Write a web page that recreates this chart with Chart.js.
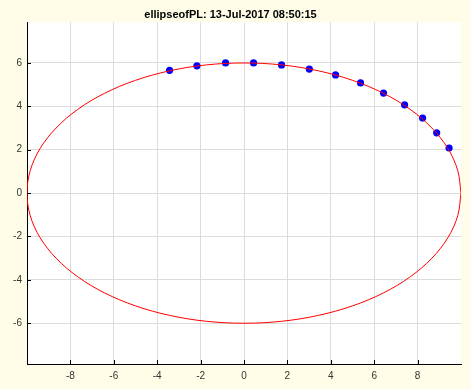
<!DOCTYPE html>
<html>
<head>
<meta charset="utf-8">
<script src="https://cdn.jsdelivr.net/npm/chart.js@4/dist/chart.umd.min.js"></script>
<style>
  html, body { margin: 0; padding: 0; background: #fffde8; }
  #wrap { width: 471px; height: 389px; }
</style>
</head>
<body>
<div id="wrap"><canvas id="myChart"></canvas></div>
<script>
// ellipse outline, every 10 degrees
const ellipseX = [10, 9.85, 9.40, 8.66, 7.66, 6.43, 5.00, 3.42, 1.74, 0,
                  -1.74, -3.42, -5.00, -6.43, -7.66, -8.66, -9.40, -9.85, -10,
                  -9.85, -9.40, -8.66, -7.66, -6.43, -5.00, -3.42, -1.74, 0,
                  1.74, 3.42, 5.00, 6.43, 7.66, 8.66, 9.40, 9.85, 10];
const ellipseY = [0, 1.04, 2.05, 3.00, 3.86, 4.60, 5.20, 5.64, 5.91, 6,
                  5.91, 5.64, 5.20, 4.60, 3.86, 3.00, 2.05, 1.04, 0,
                  -1.04, -2.05, -3.00, -3.86, -4.60, -5.20, -5.64, -5.91, -6,
                  -5.91, -5.64, -5.20, -4.60, -3.86, -3.00, -2.05, -1.04, 0];

// blue measured points
const pointsX = [-3.43, -2.17, -0.85, 0.44, 1.73, 3.01, 4.22, 5.37, 6.43, 7.40, 8.23, 8.88, 9.45];
const pointsY = [5.66, 5.87, 6.00, 6.00, 5.91, 5.72, 5.45, 5.08, 4.61, 4.07, 3.46, 2.78, 2.08];

const xTicks = [-8, -6, -4, -2, 0, 2, 4, 6, 8];
const yTicks = [-6, -4, -2, 0, 2, 4, 6];

const titleText = 'ellipseofPL: 13-Jul-2017 08:50:15';

const toXY = (xs, ys) => xs.map((x, i) => ({x: x, y: ys[i]}));

// white plot area + small inward tick marks like octave
const plotBox = {
  id: 'plotBox',
  beforeDraw(chart) {
    const a = chart.chartArea;
    const ctx = chart.ctx;
    ctx.save();
    ctx.fillStyle = '#ffffff';
    ctx.fillRect(a.left, a.top, a.right - a.left, a.bottom - a.top);
    ctx.restore();
  },
  afterDraw(chart) {
    const a = chart.chartArea;
    const ctx = chart.ctx;
    const sx = chart.scales.x, sy = chart.scales.y;
    ctx.save();
    ctx.strokeStyle = '#000000';
    ctx.lineWidth = 1;
    ctx.beginPath();
    xTicks.forEach(v => {
      const px = Math.round(sx.getPixelForValue(v)) + 0.5;
      ctx.moveTo(px, a.bottom);
      ctx.lineTo(px, a.bottom - 4);
    });
    yTicks.forEach(v => {
      const py = Math.round(sy.getPixelForValue(v)) + 0.5;
      ctx.moveTo(a.left, py);
      ctx.lineTo(a.left + 4, py);
    });
    ctx.stroke();
    ctx.restore();
  }
};

const myChart = document.getElementById('myChart');

let chart = new Chart(myChart, {
  type: 'scatter',
  data: {
    datasets: [{
      label: 'ellipse',
      data: toXY(ellipseX, ellipseY),
      showLine: true,
      borderColor: '#ff0000',
      borderWidth: 1,
      pointRadius: 0,
      tension: 0.35,
      capBezierPoints: false,
      fill: false
    }, {
      label: 'points',
      data: toXY(pointsX, pointsY),
      showLine: false,
      backgroundColor: '#0000ff',
      borderColor: '#0000ff',
      pointRadius: 3.6,
      borderWidth: 0
    }]
  },
  options: {
    responsive: true,
    maintainAspectRatio: false,
    animation: false,
    layout: { padding: { left: 0, right: 10, top: 0, bottom: 0 } },
    plugins: {
      legend: { display: false },
      tooltip: { enabled: false },
      title: {
        display: true,
        text: titleText,
        color: '#000000',
        font: { family: 'Liberation Sans, Arial, sans-serif', size: 11, weight: 'bold' },
        padding: { top: 8, bottom: 1 }
      }
    },
    scales: {
      x: {
        type: 'linear',
        min: -10,
        max: 10,
        afterBuildTicks: s => { s.ticks = xTicks.map(v => ({value: v})); },
        afterFit: s => { s.height = 25; },
        grid: { color: '#dcdcdc', drawTicks: false },
        border: { display: true, color: '#000000', width: 1 },
        ticks: {
          padding: 6,
          color: '#333333',
          font: { family: 'Liberation Sans, Arial, sans-serif', size: 10 }
        }
      },
      y: {
        type: 'linear',
        min: -7.88,
        max: 7.88,
        afterBuildTicks: s => { s.ticks = yTicks.map(v => ({value: v})); },
        afterFit: s => { s.width = 27; },
        grid: { color: '#dcdcdc', drawTicks: false },
        border: { display: true, color: '#000000', width: 1 },
        ticks: {
          padding: 5,
          color: '#333333',
          font: { family: 'Liberation Sans, Arial, sans-serif', size: 10 }
        }
      }
    }
  },
  plugins: [plotBox]
});
</script>
</body>
</html>
